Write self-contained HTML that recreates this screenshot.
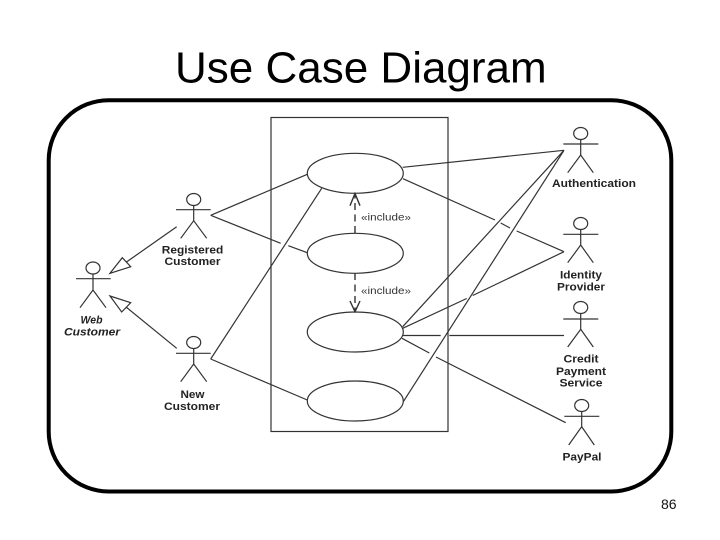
<!DOCTYPE html>
<html><head><meta charset="utf-8"><style>
html,body{margin:0;padding:0;background:#fff;width:720px;height:540px;overflow:hidden}
svg{display:block}
text{font-family:"Liberation Sans",Arial,sans-serif}
</style></head><body>
<svg width="720" height="540" viewBox="0 0 720 540" xmlns="http://www.w3.org/2000/svg">
<rect width="720" height="540" fill="#fff"/>
<text x="175" y="82.5" font-size="44" fill="#000">Use Case Diagram</text>
<rect x="48.7" y="100.2" width="622.6" height="391.3" rx="60" ry="60" fill="none" stroke="#000" stroke-width="4"/>
<text x="661" y="509" font-size="14" fill="#111">86</text>

<g fill="none" stroke="#333" stroke-width="1.2" style="filter:blur(.25px)">
<rect x="271" y="117.5" width="177" height="314"/>
<ellipse cx="355.3" cy="173.3" rx="48" ry="20"/>
<ellipse cx="355.3" cy="253.3" rx="48" ry="20"/>
<ellipse cx="355.3" cy="332" rx="48" ry="20"/>
<ellipse cx="355.3" cy="401" rx="48" ry="20"/>

<!-- connectors -->
<path d="M210.7 215.3L307.3 174.3"/>
<path d="M210.7 215.3L280.7 243.3M288.3 245.7L307.3 252.7"/>
<path d="M210.7 359L321.7 188.3"/>
<path d="M210.7 359L307.3 400"/>
<path d="M402.7 167.3L564 150.3"/>
<path d="M403 178.7L495 220M500.7 223L510 228M516.7 231L564 251.7"/>
<path d="M402.7 326.7L564 150.3"/>
<path d="M403.3 401.7L564 150.3"/>
<path d="M402.7 328.3L466.7 298.5M472.7 295.5L564 251.7"/>
<path d="M403 335.5L440.7 335.5M449.3 335.5L564 335.5"/>
<path d="M402 338.3L429.3 353M436 357L565.7 422.7"/>

<!-- generalization -->
<path d="M176.7 226.7L126.5 262"/>
<path d="M110 273.3L122.3 257.7L130.7 266.7Z" fill="#fff"/>
<path d="M176.7 348.3L126 307"/>
<path d="M110 296L130.7 302.7L121.7 312Z" fill="#fff"/>

<!-- include -->
<path d="M355 233V194" stroke-dasharray="7 4.5" stroke-width="1.4"/>
<path d="M350 205.7L355 193.5L360 205.7" stroke-width="1.4"/>
<path d="M355 273V311" stroke-dasharray="7 4.5" stroke-width="1.4"/>
<path d="M350 301L355 311.7L360 301" stroke-width="1.4"/>

<!-- actors -->
<g><ellipse cx="193.7" cy="199.5" rx="7" ry="6"/><path d="M176 209.7H210.7M193.7 205.5V220.7M180.7 238.3L193.7 220.7L206.7 238.3"/></g>
<g><ellipse cx="93" cy="268" rx="7" ry="6"/><path d="M76 278.7H110.7M93 274V290M80 307.7L93 290L106 307.7"/></g>
<g><ellipse cx="193.7" cy="342.5" rx="7" ry="6"/><path d="M176 353.3H210.7M193.7 348.5V364M180.7 381.7L193.7 364L206.7 381.7"/></g>
<g><ellipse cx="580.7" cy="133.5" rx="7" ry="6"/><path d="M563.3 144H598.3M580.7 139.5V155M567.7 172.7L580.7 155L593.3 172.7"/></g>
<g><ellipse cx="580.7" cy="223.5" rx="7" ry="6"/><path d="M563.3 234.3H598.3M580.7 229.5V245M567.7 262.7L580.7 245L593.3 262.7"/></g>
<g><ellipse cx="580.7" cy="307.5" rx="7" ry="6"/><path d="M563.3 319H598.3M580.7 313.5V329.3M567.7 347L580.7 329.3L593.3 347"/></g>
<g><ellipse cx="581.7" cy="405.5" rx="7" ry="6"/><path d="M564.3 416.3H599.3M581.7 411.5V426.7M568.7 445L581.7 426.7L594.3 445"/></g>
</g>

<g font-size="11" font-weight="bold" fill="#222" text-anchor="middle" style="filter:blur(.2px)">
<text x="192.5" y="253.3" textLength="61.5" lengthAdjust="spacingAndGlyphs">Registered</text>
<text x="192.5" y="265" textLength="56" lengthAdjust="spacingAndGlyphs">Customer</text>
<text x="91.5" y="323.5" font-style="italic" textLength="22" lengthAdjust="spacingAndGlyphs">Web</text>
<text x="92" y="335.7" font-style="italic" textLength="56" lengthAdjust="spacingAndGlyphs">Customer</text>
<text x="192.5" y="398" textLength="24" lengthAdjust="spacingAndGlyphs">New</text>
<text x="192" y="410" textLength="56" lengthAdjust="spacingAndGlyphs">Customer</text>
<text x="594" y="187" textLength="84" lengthAdjust="spacingAndGlyphs">Authentication</text>
<text x="581" y="278.3" textLength="42" lengthAdjust="spacingAndGlyphs">Identity</text>
<text x="581" y="290.3" textLength="48" lengthAdjust="spacingAndGlyphs">Provider</text>
<text x="581" y="362.7" textLength="35" lengthAdjust="spacingAndGlyphs">Credit</text>
<text x="581" y="374.8" textLength="50" lengthAdjust="spacingAndGlyphs">Payment</text>
<text x="581" y="386.7" textLength="43" lengthAdjust="spacingAndGlyphs">Service</text>
<text x="582" y="460.7" textLength="39" lengthAdjust="spacingAndGlyphs">PayPal</text>
</g>
<g font-size="10.5" fill="#333" style="filter:blur(.2px)">
<text x="361" y="220.7" textLength="50" lengthAdjust="spacingAndGlyphs">«include»</text>
<text x="361" y="294" textLength="50" lengthAdjust="spacingAndGlyphs">«include»</text>
</g>
</svg>
</body></html>
